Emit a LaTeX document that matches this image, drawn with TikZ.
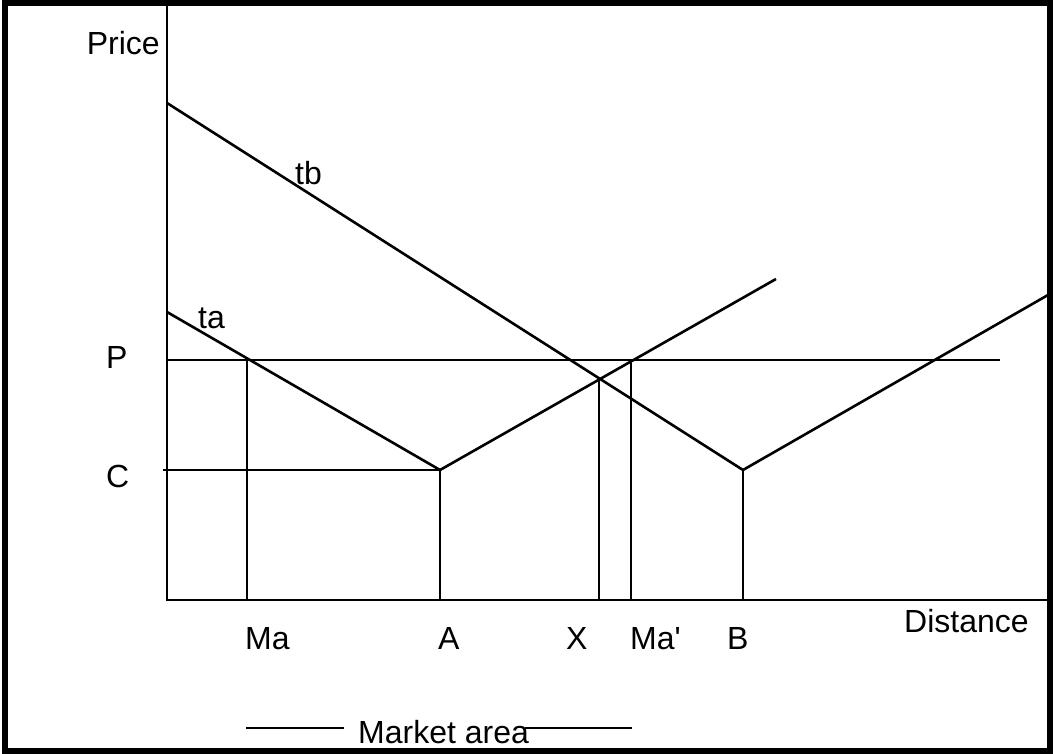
\documentclass[tikz,border=0pt]{standalone}
\usepackage{fontspec}
\setmainfont{Liberation Sans}
\newcommand{\straightquote}{\XeTeXglyph\XeTeXcharglyph"0027\relax}
\begin{document}
\begin{tikzpicture}[x=1pt,y=-1pt,
  ln/.style={line width=2.6pt},
  lbl/.style={inner sep=0pt,font=\fontsize{32}{38}\selectfont}]
\useasboundingbox (0,0) rectangle (1053,754);
\draw[line width=5.5pt] (5,3) rectangle (1050,751);
% key points
\coordinate (Otop) at (167,6);
\coordinate (O) at (167,600);
\coordinate (Xend) at (1048,600);
\coordinate (TB0) at (167,103);
\coordinate (Bk) at (743,470);
\coordinate (Bend) at (1048,295);
\coordinate (TA0) at (167,312);
\coordinate (Ak) at (440,470);
\coordinate (Aend) at (776,279);
\coordinate (P0) at (167,360);
\coordinate (P1) at (1000,360);
\coordinate (C0) at (163,470);
\coordinate (MaT) at (247,360);
\coordinate (MaB) at (247,600);
\coordinate (AB) at (440,600);
\coordinate (XT) at (599,377);
\coordinate (XB) at (599,600);
\coordinate (MpT) at (631,360);
\coordinate (MpB) at (631,600);
\coordinate (BB) at (743,600);
\coordinate (M1a) at (246,728);
\coordinate (M1b) at (344,728);
\coordinate (M2a) at (525,728);
\coordinate (M2b) at (632,728);
% axes
\draw[ln] (Otop) -- (O) -- (Xend);
% transport cost lines
\draw[ln] (TB0) -- (Bk) -- (Bend);
\draw[ln] (TA0) -- (Ak) -- (Aend);
% P and C
\draw[ln] (P0) -- (P1);
\draw[ln] (C0) -- (Ak);
% verticals
\draw[ln] (MaT) -- (MaB);
\draw[ln] (Ak) -- (AB);
\draw[ln] (XT) -- (XB);
\draw[ln] (MpT) -- (MpB);
\draw[ln] (Bk) -- (BB);
% market area
\draw[ln] (M1a) -- (M1b);
\draw[ln] (M2a) -- (M2b);
% labels
\node[lbl,anchor=base east] (price) at (160,55) {Price};
\node[lbl,anchor=base west] (lP) at (106,368) {P};
\node[lbl,anchor=base west] (lC) at (106,487) {C};
\node[lbl,anchor=base west] (lta) at (198,328) {ta};
\node[lbl,anchor=base west] (ltb) at (295,185) {tb};
\node[lbl,anchor=base west] (lMa) at (245,649) {Ma};
\node[lbl,anchor=base west] (lA) at (438,649) {A};
\node[lbl,anchor=base west] (lX) at (566,649) {X};
\node[lbl,anchor=base west] (lMp) at (630,649) {Ma\straightquote};
\node[lbl,anchor=base west] (lB) at (727,649) {B};
\node[lbl,anchor=base west] (ldist) at (904,632) {Distance};
\node[lbl,anchor=base west] (lmarket) at (358,743) {Market area};
\end{tikzpicture}
\end{document}
